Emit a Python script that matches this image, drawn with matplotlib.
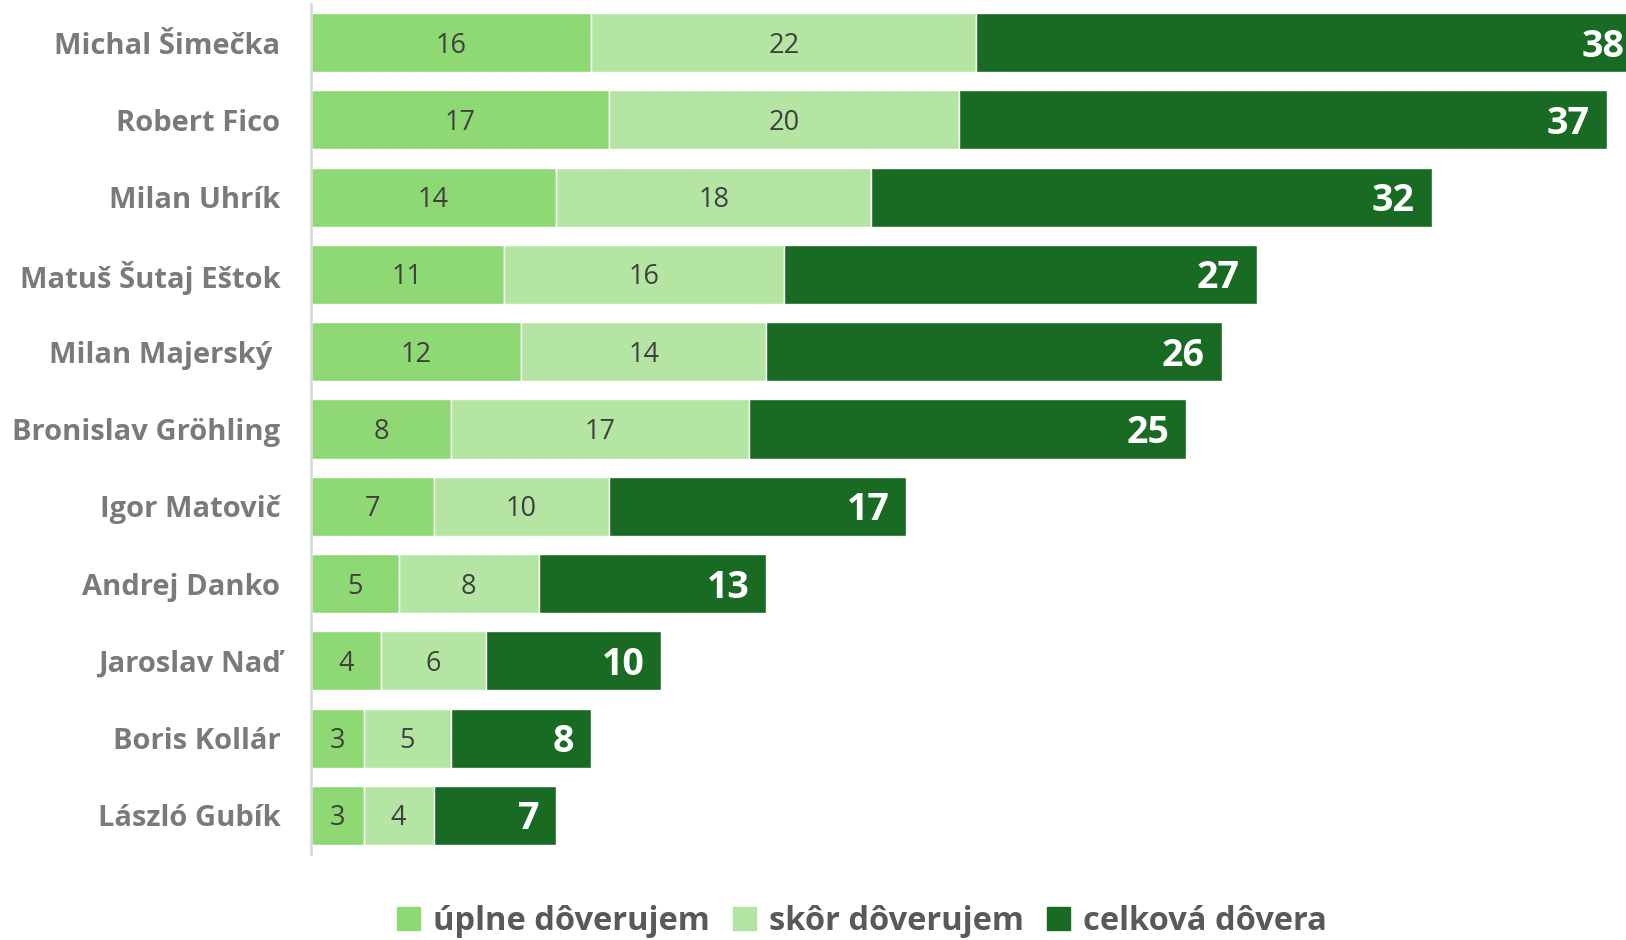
import matplotlib
matplotlib.use("Agg")
import matplotlib.pyplot as plt
from matplotlib.patches import Patch

names = ["Michal Šimečka", "Robert Fico", "Milan Uhrík", "Matuš Šutaj Eštok",
         "Milan Majerský ", "Bronislav Gröhling", "Igor Matovič", "Andrej Danko",
         "Jaroslav Naď", "Boris Kollár", "László Gubík"]
uplne = [16, 17, 14, 11, 12, 8, 7, 5, 4, 3, 3]
skor = [22, 20, 18, 16, 14, 17, 10, 8, 6, 5, 4]
celkova = [38, 37, 32, 27, 26, 25, 17, 13, 10, 8, 7]
series_names = ["úplne dôverujem", "skôr dôverujem", "celková dôvera"]

c1, c2, c3 = "#8ED973", "#B4E5A2", "#196B24"

FONT = ['Open Sans', 'DejaVu Sans']
plt.rcParams['font.family'] = FONT

fig = plt.figure(figsize=(16.26, 9.40), dpi=100)
ax = fig.add_axes([311/1626, 1 - 854/940, 1 - 311/1626, 850/940])

y = list(range(len(names)))
h = 0.765
left2 = uplne
left3 = [a + b for a, b in zip(uplne, skor)]
ax.barh(y, uplne, height=h, color=c1, edgecolor="white", linewidth=1)
ax.barh(y, skor, left=left2, height=h, color=c2, edgecolor="white", linewidth=1)
ax.barh(y, celkova, left=left3, height=h, color=c3, edgecolor="white", linewidth=1)

fs_in, fs_big = 19.5, 27
for i in y:
    ax.annotate(str(uplne[i]), xy=(uplne[i] / 2, i), xytext=(0, -3),
                textcoords="offset pixels", ha="center", va="center",
                fontsize=fs_in, color="#404040")
    ax.annotate(str(skor[i]), xy=(left2[i] + skor[i] / 2, i), xytext=(0, -3),
                textcoords="offset pixels", ha="center", va="center",
                fontsize=fs_in, color="#404040")
    ax.annotate(str(celkova[i]), xy=(left3[i] + celkova[i], i),
                xytext=(-17, -4), textcoords="offset pixels",
                ha="right", va="center", fontsize=fs_big, fontweight="bold",
                color="white", annotation_clip=False, clip_on=True)

ax.set_xlim(0, 75.1)
ax.set_ylim(10.5, -0.5)
ax.set_yticks(y)
ax.set_yticklabels(names, fontsize=21, fontweight="bold", color="#7A7A7A")
ax.tick_params(axis="y", length=0, pad=22)
ax.set_xticks([])
for s in ["top", "right", "bottom"]:
    ax.spines[s].set_visible(False)
ax.spines["left"].set_color("#D9D9D9")
ax.spines["left"].set_linewidth(2)

handles = [Patch(color=c1), Patch(color=c2), Patch(color=c3)]
fig.legend(handles, series_names, loc="center", bbox_to_anchor=(862/1626, 1 - 921/940),
           ncol=3, frameon=False, prop={"family": FONT, "size": 23.5, "weight": "bold"},
           labelcolor="#595959", handlelength=0.7, handleheight=0.7, handletextpad=0.4,
           columnspacing=0.7)

fig.savefig("out.png", dpi=100)
